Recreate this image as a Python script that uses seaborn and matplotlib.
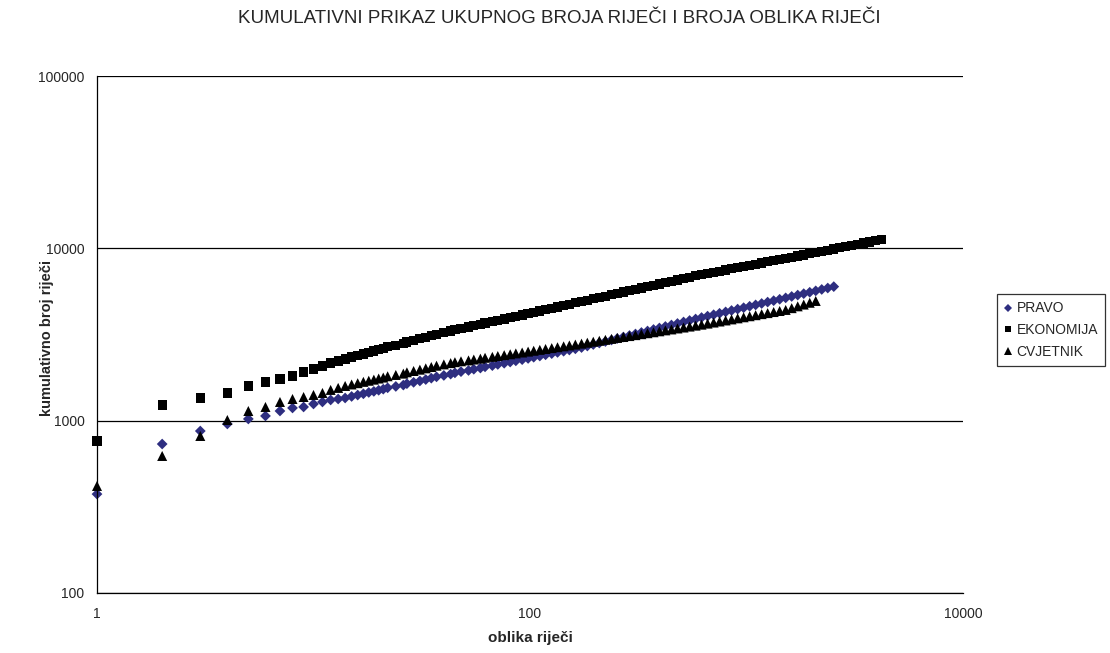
import pandas as pd
import matplotlib.pyplot as plt
import seaborn as sns
from matplotlib.ticker import FixedLocator, FixedFormatter, NullLocator

# x values (word-form rank) shared by the three series
ranks = [1, 2, 3, 4, 5, 6, 7, 8, 9, 10, 11, 12, 13, 14, 15, 16, 17, 18, 19, 20,
         21, 22, 24, 26, 27, 29, 31, 33, 35, 37,
         40, 43, 45, 48, 52, 55, 59, 62, 67, 71,
         76, 81, 86, 92, 98, 104, 111, 118, 126, 134,
         143, 152, 162, 173, 184, 196, 209, 223, 238, 253,
         270, 288, 307, 327, 349, 372, 396, 422, 450, 480,
         512, 546, 582, 620, 661, 705, 751, 801, 853, 910,
         970, 1034, 1102, 1175, 1252, 1335, 1423, 1517, 1617, 1724,
         1838, 1959, 2088, 2226, 2373, 2530, 2697, 2875, 3065, 3267,
         3483, 3713, 3958, 4219]

pravo = [375, 732, 871, 957, 1023, 1065, 1138, 1185, 1201, 1250, 1284, 1319, 1336, 1354, 1382, 1408, 1432, 1458, 1479, 1501,
         1523, 1551, 1580, 1609, 1639, 1669, 1700, 1732, 1764, 1796,
         1830, 1863, 1894, 1925, 1956, 1988, 2020, 2053, 2086, 2120,
         2154, 2189, 2224, 2260, 2297, 2334, 2372, 2411, 2450, 2489,
         2529, 2570, 2612, 2657, 2711, 2766, 2822, 2879, 2938, 2998,
         3058, 3120, 3184, 3248, 3314, 3381, 3450, 3520, 3591, 3664,
         3738, 3813, 3890, 3967, 4043, 4119, 4198, 4277, 4358, 4440,
         4524, 4610, 4697, 4786, 4877, 4969, 5063, 5159, 5257, 5356,
         5458, 5562, 5667, 5774, 5884, 5995]

ekonomija = [762, 1233, 1354, 1448, 1590, 1677, 1746, 1817, 1917, 1995, 2077, 2162, 2221, 2281, 2343, 2390, 2438, 2487, 2537, 2588,
             2632, 2687, 2744, 2802, 2861, 2921, 2983, 3045, 3109, 3175,
             3242, 3310, 3371, 3432, 3494, 3556, 3621, 3686, 3753, 3820,
             3890, 3960, 4032, 4105, 4179, 4255, 4332, 4410, 4490, 4571,
             4654, 4738, 4824, 4912, 5001, 5093, 5185, 5280, 5376, 5474,
             5573, 5675, 5778, 5883, 5991, 6100, 6210, 6324, 6439, 6556,
             6676, 6797, 6921, 7041, 7151, 7262, 7375, 7489, 7606, 7724,
             7844, 7966, 8091, 8217, 8345, 8475, 8607, 8741, 8877, 9015,
             9155, 9298, 9443, 9592, 9746, 9901, 10062, 10224, 10387, 10554,
             10724, 10897, 11071, 11250]

cvjetnik = [418, 624, 815, 1009, 1138, 1201, 1284, 1336, 1372, 1410, 1448, 1508, 1549, 1590, 1622, 1650, 1680, 1705, 1730, 1756,
            1779, 1810, 1842, 1875, 1908, 1942, 1977, 2012, 2048, 2084,
            2121, 2158, 2185, 2211, 2237, 2263, 2290, 2317, 2345, 2372,
            2400, 2429, 2457, 2486, 2516, 2545, 2576, 2606, 2637, 2668,
            2700, 2732, 2764, 2799, 2834, 2871, 2907, 2944, 2982, 3020,
            3058, 3097, 3136, 3176, 3217, 3258, 3300, 3342, 3384, 3428,
            3471, 3516, 3560, 3607, 3658, 3710, 3762, 3815, 3869, 3924,
            3980, 4036, 4093, 4151, 4209, 4269, 4329, 4391, 4497, 4607,
            4718, 4833, 4951]

series_names = ['PRAVO', 'EKONOMIJA', 'CVJETNIK']
x_ticks = [1, 100, 10000]
y_ticks = [100, 1000, 10000, 100000]

frames = []
for name, vals in zip(series_names, [pravo, ekonomija, cvjetnik]):
    frames.append(pd.DataFrame({'rank': ranks[:len(vals)], 'count': vals, 'series': name}))
df = pd.concat(frames, ignore_index=True)

sns.set_style('white')
plt.rcParams['font.family'] = ['Liberation Sans', 'DejaVu Sans']

fig = plt.figure(figsize=(11.1, 6.53), dpi=100)
ax = fig.add_axes([97 / 1110, 1 - 593 / 653, 866 / 1110, 517 / 653])

sns.scatterplot(data=df, x='rank', y='count', hue='series', style='series', size='series',
                hue_order=series_names, style_order=series_names, size_order=series_names,
                palette={'PRAVO': '#2e2e80', 'EKONOMIJA': 'black', 'CVJETNIK': 'black'},
                markers={'PRAVO': 'D', 'EKONOMIJA': 's', 'CVJETNIK': '^'},
                sizes={'PRAVO': 30, 'EKONOMIJA': 44, 'CVJETNIK': 52},
                linewidth=0, ax=ax)
for c in ax.collections:
    c.set_clip_on(False)

ax.set_xscale('log')
ax.set_yscale('log')
ax.set_xlim(1, 10000)
ax.set_ylim(100, 100000)
ax.xaxis.set_major_locator(FixedLocator(x_ticks))
ax.xaxis.set_major_formatter(FixedFormatter([str(t) for t in x_ticks]))
ax.yaxis.set_major_locator(FixedLocator(y_ticks))
ax.yaxis.set_major_formatter(FixedFormatter([str(t) for t in y_ticks]))
ax.xaxis.set_minor_locator(NullLocator())
ax.yaxis.set_minor_locator(NullLocator())

ax.set_axisbelow(True)
ax.yaxis.grid(True, color='black', linewidth=0.9)
ax.xaxis.grid(False)
for side in ['top', 'right']:
    ax.spines[side].set_visible(False)
for side in ['left', 'bottom']:
    ax.spines[side].set_color('black')
    ax.spines[side].set_linewidth(0.9)

ax.tick_params(axis='y', direction='out', length=5, width=0.9, color='black', labelsize=10, pad=4)
ax.tick_params(axis='x', direction='in', length=5, width=0.9, color='black', labelsize=10, pad=10)

ax.set_xlabel('oblika riječi', fontdict={'weight': 'bold', 'size': 11})
ax.set_ylabel('kumulativno broj riječi', fontdict={'weight': 'bold', 'size': 10.5})
ax.xaxis.set_label_coords(0.5, (593 - 631) / 517)
ax.yaxis.set_label_coords((54 - 97) / 866, (593 - 338) / 517)

fig.suptitle('KUMULATIVNI PRIKAZ UKUPNOG BROJA RIJEČI I BROJA OBLIKA RIJEČI',
             x=559 / 1110, y=1 - 10 / 653, va='top', fontsize=13.5)

handles, labels = ax.get_legend_handles_labels()
ax.get_legend().remove()
leg = fig.legend(handles, labels, loc='center left', bbox_to_anchor=(997 / 1110, 1 - 330 / 653),
                 frameon=True, fancybox=False, edgecolor='black', fontsize=10,
                 handlelength=0.6, handletextpad=0.3, borderpad=0.5, labelspacing=0.55,
                 borderaxespad=0, markerscale=0.7)
leg.get_frame().set_linewidth(0.9)

fig.savefig('out.png', dpi=100)
